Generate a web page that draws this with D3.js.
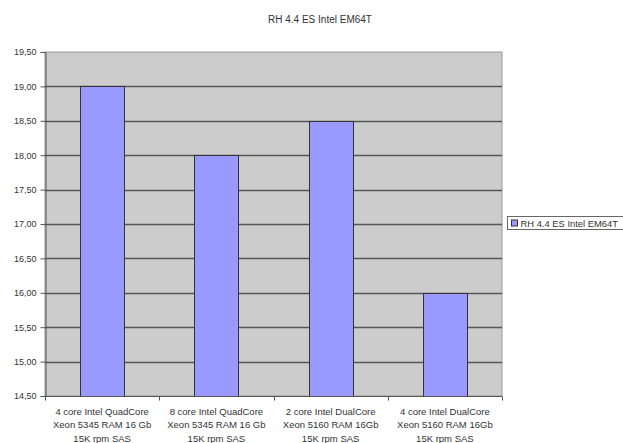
<!DOCTYPE html>
<html><head><meta charset="utf-8">
<script src="https://cdn.jsdelivr.net/npm/d3@7"></script>
<style>body{margin:0;background:#fff;overflow:hidden}svg{display:block;font-family:"Liberation Sans",Arial,sans-serif}</style>
</head><body><svg id="c" width="623" height="443"></svg>
<script>
const title = "RH 4.4 ES Intel EM64T";
const seriesName = "RH 4.4 ES Intel EM64T";
const categories = [
  ["4 core Intel QuadCore","Xeon 5345 RAM 16 Gb","15K rpm SAS"],
  ["8 core Intel QuadCore","Xeon 5345 RAM 16 Gb","15K rpm SAS"],
  ["2 core Intel DualCore","Xeon 5160 RAM 16Gb","15K rpm SAS"],
  ["4 core Intel DualCore","Xeon 5160 RAM 16Gb","15K rpm SAS"]
];
const values = [19.0, 18.0, 18.5, 16.0];
const yTicks = [14.5, 15.0, 15.5, 16.0, 16.5, 17.0, 17.5, 18.0, 18.5, 19.0, 19.5];

const svg = d3.select("#c");
const L = 45, R = 502, T = 52, B = 396;
const x = d3.scaleBand().domain(d3.range(categories.length)).range([L, R]).paddingInner(0.615).paddingOuter(0.3075);
const y = d3.scaleLinear().domain([14.5, 19.5]).range([B, T]);

svg.append("rect").attr("x", L).attr("y", T).attr("width", R - L).attr("height", B - T)
  .attr("fill", "#cccccc").attr("stroke", "#9a9a9a").attr("stroke-width", 1);

// grid
svg.append("g").selectAll("line").data(yTicks.slice(1, -1)).join("line")
  .attr("x1", L).attr("x2", R).attr("y1", d => Math.round(y(d)) + 0.5).attr("y2", d => Math.round(y(d)) + 0.5)
  .attr("stroke", "#555").attr("stroke-width", 1.3);

// bars
svg.append("g").selectAll("rect").data(values).join("rect")
  .attr("x", (d, i) => Math.round(x(i)) + 0.5).attr("width", Math.round(x.bandwidth()))
  .attr("y", d => Math.round(y(d)) + 0.5).attr("height", d => Math.round(B - y(d)))
  .attr("fill", "#9999ff").attr("stroke", "#333").attr("stroke-width", 1);

// y axis
const fmt = d => d3.format(".2f")(d).replace(".", ",");
const ya = svg.append("g").attr("transform", `translate(${L + 0.5},0)`)
  .call(d3.axisLeft(y).tickValues(yTicks).tickFormat(fmt).tickSize(5).tickPadding(4));
ya.select(".domain").attr("stroke", "#555");
ya.selectAll(".tick line").attr("stroke", "#555");
ya.selectAll("text").attr("font-size", 9).attr("fill", "#333").attr("font-family", "Liberation Sans, Arial, sans-serif");

// x axis
const xb = d3.scaleLinear().domain([0, categories.length]).range([L, R]);
const xa = svg.append("g").attr("transform", `translate(0,${B + 0.5})`);
xa.append("line").attr("x1", L).attr("x2", R).attr("stroke", "#555");
xa.selectAll("line.t").data(d3.range(categories.length + 1)).join("line").attr("class", "t")
  .attr("x1", d => Math.round(xb(d)) + 0.5).attr("x2", d => Math.round(xb(d)) + 0.5)
  .attr("y1", 0).attr("y2", 4).attr("stroke", "#555");
xa.selectAll("text").data(categories).join("text")
  .attr("text-anchor", "middle").attr("font-size", 9.5).attr("fill", "#333")
  .each(function (lines, i) {
    const t = d3.select(this);
    lines.forEach((ln, k) => t.append("tspan").attr("x", x(i) + x.bandwidth() / 2).attr("y", 18 + k * 13.5).text(ln));
  });

// title
svg.append("text").attr("x", 320).attr("y", 23).attr("text-anchor", "middle")
  .attr("font-size", 10).attr("fill", "#333").text(title);

// legend
const lg = svg.append("g").attr("transform", "translate(507.5,216.5)");
lg.append("rect").attr("width", 140).attr("height", 13).attr("fill", "#fff").attr("stroke", "#666");
lg.append("rect").attr("x", 4).attr("y", 3.5).attr("width", 6).attr("height", 6).attr("fill", "#9999ff").attr("stroke", "#333");
lg.append("text").attr("x", 13).attr("y", 10).attr("font-size", 9.4).attr("fill", "#333").text(seriesName);
</script></body></html>
